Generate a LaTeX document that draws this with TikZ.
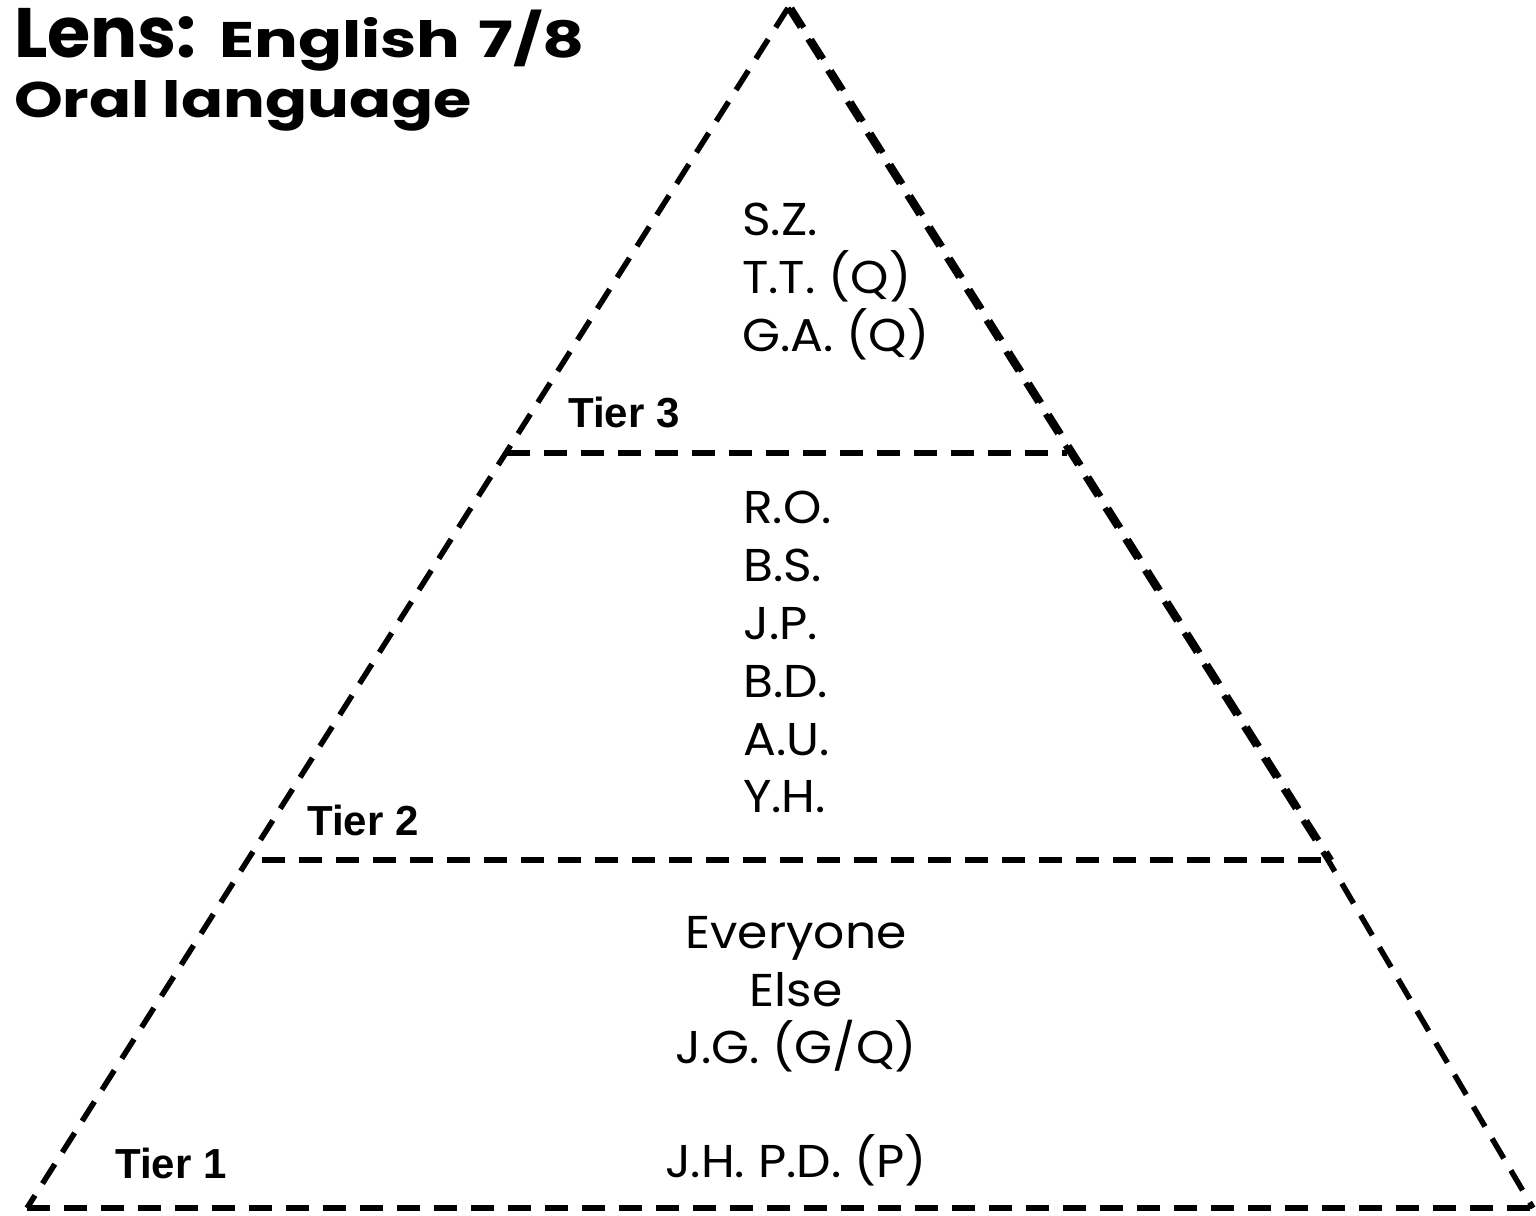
\documentclass[tikz,border=0pt]{standalone}
\usepackage{fontspec}
\setmainfont{Poppins}
\newfontfamily\tierfont{Liberation Sans}
\newfontfamily\widefont[FakeStretch=1.24]{Poppins}
\newfontfamily\engfont[FakeStretch=1.3]{Poppins}
\newfontfamily\bodyfont[FakeStretch=1.06]{Poppins}
\begin{document}
\begin{tikzpicture}[x=1pt,y=-1pt,
  edge/.style={line width=5.5pt, dash pattern=on 23pt off 14pt},
  body/.style={font=\bodyfont\fontsize{46}{58}\selectfont, inner sep=0pt},
  tier/.style={font=\tierfont\bfseries\fontsize{42}{48}\selectfont, inner sep=0pt, anchor=base west},
  ttl/.style={inner sep=0pt, anchor=base west}]
\useasboundingbox (0,0) rectangle (1536,1215);
% corners
\coordinate (apex) at (788,8);
\coordinate (bl) at (27,1208);
\coordinate (br) at (1533,1208);
\coordinate (rk) at (1328,860);
\coordinate (t3l) at (507,453);
\coordinate (t3r) at (1067,453);
\coordinate (t2l) at (262,860);
% edges
\draw[edge] (apex) -- (bl);
\draw[edge] (bl) -- (br);
\draw[edge] (apex) -- (rk) -- (br);
\draw[edge] ([xshift=3.5pt]apex) -- ([xshift=3.5pt]rk);
\draw[edge] (t3l) -- (t3r);
\draw[edge] (t2l) -- (rk);
% title
\node[ttl, font=\bfseries\fontsize{70}{70}\selectfont] (lens) at (14,58) {Lens:};
\node[ttl, font=\engfont\bfseries\fontsize{50}{50}\selectfont] (eng) at (219,58) {English\hspace{4pt} 7/8};
\node[ttl, font=\widefont\bfseries\fontsize{50}{50}\selectfont] (oral) at (14,117) {Oral language};
% tier labels
\node[tier] (tier3) at (568,427) {Tier 3};
\node[tier] (tier2) at (307,835) {Tier 2};
\node[tier] (tier1) at (115,1178) {Tier 1};
% tier 3 names
\node[body, anchor=base west] (sz) at (742,235) {S.Z.};
\node[body, anchor=base west] (tt) at (742,293) {T.T. (Q)};
\node[body, anchor=base west] (ga) at (742,351) {G.A. (Q)};
% tier 2 names
\node[body, anchor=base west] (ro) at (743,523) {R.O.};
\node[body, anchor=base west] (bs) at (743,581) {B.S.};
\node[body, anchor=base west] (jp) at (743,639) {J.P.};
\node[body, anchor=base west] (bd) at (743,697) {B.D.};
\node[body, anchor=base west] (au) at (743,755) {A.U.};
\node[body, anchor=base west] (yh) at (743,812) {Y.H.};
% tier 1 names
\node[body, anchor=base] (ev) at (796,948) {Everyone};
\node[body, anchor=base] (el) at (796,1006) {Else};
\node[body, anchor=base] (jg) at (796,1063) {J.G. (G/Q)};
\node[body, anchor=base] (jh) at (796,1177) {J.H. P.D. (P)};
\end{tikzpicture}
\end{document}
